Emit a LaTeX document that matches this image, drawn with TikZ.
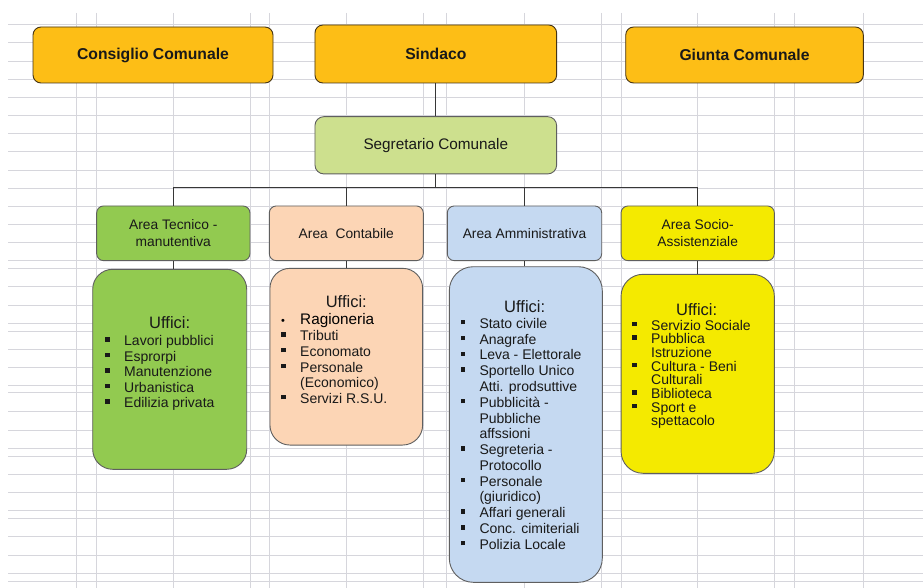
\documentclass[tikz,border=0pt]{standalone}
\usepackage{fontspec}
\setmainfont{Liberation Sans}
\definecolor{gridc}{RGB}{214,214,220}
\definecolor{orangeF}{RGB}{253,190,22}
\definecolor{orangeD}{RGB}{70,52,20}
\definecolor{sgreen}{RGB}{205,224,142}
\definecolor{tgreen}{RGB}{146,202,80}
\definecolor{peach}{RGB}{252,213,181}
\definecolor{lblue}{RGB}{197,217,241}
\definecolor{yell}{RGB}{244,234,0}
\definecolor{edge}{RGB}{95,95,95}
\definecolor{wirec}{RGB}{55,55,55}
\definecolor{ink}{RGB}{25,25,25}
% list markers: square bullet, round bullet, indent for wrapped lines
\newcommand\bsq{\makebox[19pt][l]{\rule[4pt]{4.3pt}{4.3pt}}}
\newcommand\bdot{\makebox[19pt][l]{\fontsize{11}{11}\selectfont •}}
\newcommand\bnone{\hspace*{19pt}}
\begin{document}
\begin{tikzpicture}[x=1pt,y=-1pt,
  gridline/.style={draw=gridc, line width=0.9pt},
  headbox/.style={draw=orangeD, fill=orangeF, rounded corners=8pt, line width=0.9pt,
    font=\fontsize{15.7}{18}\selectfont\bfseries, text=ink},
  areabox/.style={draw=edge, rounded corners=7pt, line width=0.9pt,
    font=\fontsize{13.8}{16.7}\selectfont, align=center, text=ink},
  officebox/.style={draw=edge, rounded corners=20pt, line width=0.9pt},
  wire/.style={draw=wirec, line width=1pt},
  ufftitle/.style={anchor=base, inner sep=0pt, font=\fontsize{16.5}{19}\selectfont, text=ink},
  item/.style={anchor=base west, inner sep=0pt, font=\fontsize{14}{16}\selectfont, text=ink},
]
\useasboundingbox (0,0) rectangle (923,588);
\fill[white] (0,0) rectangle (923,588);

% spreadsheet grid
\foreach \y in {24,42.7,61,79.3,97.7,115.7,133.3,151.7,170,188,206,224,242.5,260.3,268.3,
  286.7,305,323.3,331,349.5,367.5,385.5,392.7,411.7,430,448.3,456,474.3,492.7,510.7,518.3,
  536.7,555,573.3,581}
  \draw[gridline] (8,\y) -- (923,\y);
\foreach \x in {76.7,96.7,173.3,250,269.3,346.7,423.3,446.7,524.3,601.7,621,697.7,774.3,794.3,863.3}
  \draw[gridline] (\x,13) -- (\x,588);

% top level
\node[headbox, minimum width=240pt, minimum height=56pt] (cons) at (153,55) {Consiglio Comunale};
\node[headbox, minimum width=241.7pt, minimum height=58pt] (sind) at (435.8,54) {Sindaco};
\node[headbox, minimum width=237.6pt, minimum height=56pt] (giun) at (744.5,55) {Giunta Comunale};
\node[areabox, fill=sgreen, rounded corners=9pt, minimum width=241.7pt, minimum height=57.3pt,
  font=\fontsize{15.3}{18}\selectfont] (segr) at (435.8,145.3) {Segretario Comunale};

% areas
\node[areabox, fill=tgreen, minimum width=153.3pt, minimum height=54.7pt] (tec) at (173.3,233.3) {Area Tecnico -\\manutentiva};
\node[areabox, fill=peach, minimum width=154pt, minimum height=54.7pt] (con) at (346.3,233.3) {Area\ \ Contabile};
\node[areabox, fill=lblue, minimum width=154.4pt, minimum height=54.7pt] (amm) at (524.5,233.3) {Area Amministrativa};
\node[areabox, fill=yell, minimum width=153.3pt, minimum height=54.7pt] (soc) at (697.7,233.3) {Area Socio-\\Assistenziale};

% office boxes
\node[officebox, fill=tgreen, minimum width=154pt, minimum height=200pt] (uft) at (169.7,369.3) {};
\node[officebox, fill=peach, minimum width=152.7pt, minimum height=176.7pt] (ufc) at (346.3,356.7) {};
\node[officebox, fill=lblue, rounded corners=24pt, minimum width=153pt, minimum height=315.6pt] (ufa) at (525.8,424.5) {};
\node[officebox, fill=yell, rounded corners=22pt, minimum width=153.3pt, minimum height=199pt] (ufs) at (697.7,373.8) {};

% connectors
\coordinate (bus) at (435.8,188);
\draw[wire] (sind.south) -- (segr.north);
\draw[wire] (segr.south) -- (segr.south |- bus);
\draw[wire] (tec.north) -- (tec.north |- bus) -- (soc.north |- bus) -- (soc.north);
\draw[wire] (con.north) -- (con.north |- bus);
\draw[wire] (amm.north) -- (amm.north |- bus);
\draw[wire] (tec.south) -- (tec.south |- uft.north);
\draw[wire] (con.south) -- (con.south |- ufc.north);
\draw[wire] (amm.south) -- (amm.south |- ufa.north);
\draw[wire] (soc.south) -- (soc.south |- ufs.north);

% office lists
\node[ufftitle] (tt) at (169.7,328.4) {Uffici:};
\foreach \t [count=\i] in {Lavori pubblici, Esprorpi, Manutenzione, Urbanistica, Edilizia privata}
  \node[item] (t\i) at (105,{345.7+15.45*(\i-1)}) {\bsq\t};

\node[ufftitle] (ct) at (346.3,307.3) {Uffici:};
\node[item, font=\fontsize{15.3}{17}\selectfont, text=black] (c0) at (281,324.3) {\bdot Ragioneria};
\foreach \t [count=\i] in {{\bsq Tributi},{\bsq Economato},{\bsq Personale},{\bnone (Economico)},{\bsq Servizi R.S.U.}}
  \node[item] (c\i) at (281,{340.7+15.65*(\i-1)}) {\t};

\node[ufftitle] (at) at (524.7,312.3) {Uffici:};
\foreach \t [count=\i] in {{\bsq Stato civile},{\bsq Anagrafe},{\bsq Leva - Elettorale},{\bsq Sportello Unico},
  {\bnone Atti. prodsuttive},{\bsq Pubblicità -},{\bnone Pubbliche},{\bnone affssioni},{\bsq Segreteria -},
  {\bnone Protocollo},{\bsq Personale},{\bnone (giuridico)},{\bsq Affari generali},{\bsq Conc. cimiteriali},
  {\bsq Polizia Locale}}
  \node[item] (a\i) at (460.3,{328.3+15.79*(\i-1)}) {\t};

\node[ufftitle] (st) at (696.7,315.7) {Uffici:};
\foreach \t [count=\i] in {{\bsq Servizio Sociale},{\bsq Pubblica},{\bnone Istruzione},{\bsq Cultura - Beni},
  {\bnone Culturali},{\bsq Biblioteca},{\bsq Sport e},{\bnone spettacolo}}
  \node[item] (s\i) at (632,{330+13.71*(\i-1)}) {\t};
\end{tikzpicture}
\end{document}
